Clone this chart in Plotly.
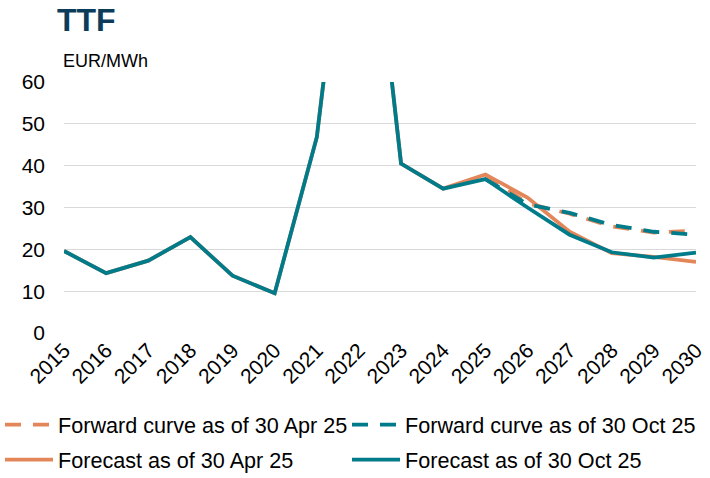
import plotly.graph_objects as go

years = list(range(2015, 2031))

# Forecast as of 30 Oct 25 (history + forecast)
fcst_oct = [19.6, 14.3, 17.3, 22.9, 13.7, 9.5, 46.8, 130.0, 40.5, 34.5, 36.8, 30.0, 23.5, 19.3, 18.0, 19.2]
# Forecast as of 30 Apr 25 (history shared, diverges from 2024)
fcst_apr = [19.6, 14.3, 17.3, 22.9, 13.7, 9.5, 46.8, 130.0, 40.5, 34.5, 37.9, 32.4, 24.2, 19.1, 18.2, 17.0]

fwd_years = list(range(2025, 2031))
fwd_apr = [37.9, 31.0, 28.5, 25.5, 24.0, 24.5]
fwd_oct = [36.8, 30.8, 28.7, 25.8, 24.2, 23.5]

y_ticks = [0, 10, 20, 30, 40, 50, 60]

ORANGE = "#E3865A"
TEAL = "#007B8A"
NAVY = "#0B3D5B"
FONT = "Liberation Sans, Arial, sans-serif"
DASH = "16px,12px"
LW = 3.8

fig = go.Figure()
fig.add_trace(go.Scatter(x=years, y=fcst_apr, mode="lines", name="Forecast as of 30 Apr 25",
                         line=dict(color=ORANGE, width=LW), legend="legend3"))
fig.add_trace(go.Scatter(x=years, y=fcst_oct, mode="lines", name="Forecast as of 30 Oct 25",
                         line=dict(color=TEAL, width=LW), legend="legend4"))
fig.add_trace(go.Scatter(x=fwd_years, y=fwd_apr, mode="lines", name="Forward curve as of 30 Apr 25",
                         line=dict(color=ORANGE, width=LW, dash=DASH), legend="legend"))
fig.add_trace(go.Scatter(x=fwd_years, y=fwd_oct, mode="lines", name="Forward curve as of 30 Oct 25",
                         line=dict(color=TEAL, width=LW, dash=DASH), legend="legend2"))


def leg(xpx, ypx):
    return dict(orientation="h", xref="container", yref="container",
                x=xpx / 710, xanchor="left", y=1 - ypx / 478, yanchor="middle",
                font=dict(family=FONT, size=21.6, color="#000000"),
                itemwidth=48, bgcolor="rgba(0,0,0,0)", borderwidth=0)


fig.update_layout(
    width=710, height=478,
    margin=dict(l=64, r=14, t=82, b=145, autoexpand=False),
    paper_bgcolor="white", plot_bgcolor="white",
    font=dict(family=FONT, color="#000000"),
    title=dict(text="<b>TTF</b>", x=57/710, xanchor="left", xref="container",
               y=1 - 20/478, yanchor="middle", yref="container",
               font=dict(family=FONT, size=32, color=NAVY)),
    xaxis=dict(range=[2015, 2030], tickmode="array", tickvals=years,
               ticktext=[str(y) for y in years], tickangle=-45, showgrid=False,
               zeroline=False, showline=False, ticks="",
               tickfont=dict(family=FONT, size=21, color="#000000")),
    yaxis=dict(range=[0, 60], tickmode="array", tickvals=y_ticks, showgrid=True,
               gridcolor="#D9D9D9", gridwidth=1, zeroline=False, showline=False, ticks="",
               ticklabelstandoff=18,
               tickfont=dict(family=FONT, size=21, color="#000000")),
    legend=leg(0, 425),
    legend2=leg(347, 425),
    legend3=leg(0, 460),
    legend4=leg(347, 460),
    showlegend=True,
    annotations=[dict(text="EUR/MWh", xref="paper", yref="paper", x=-0.005, y=1 + 21/251,
                      xanchor="left", yanchor="middle", showarrow=False,
                      font=dict(family=FONT, size=18, color="#000000"))],
)

fig.write_html("out.html", config={"displayModeBar": False},
               post_script="document.body.style.margin='0';")
